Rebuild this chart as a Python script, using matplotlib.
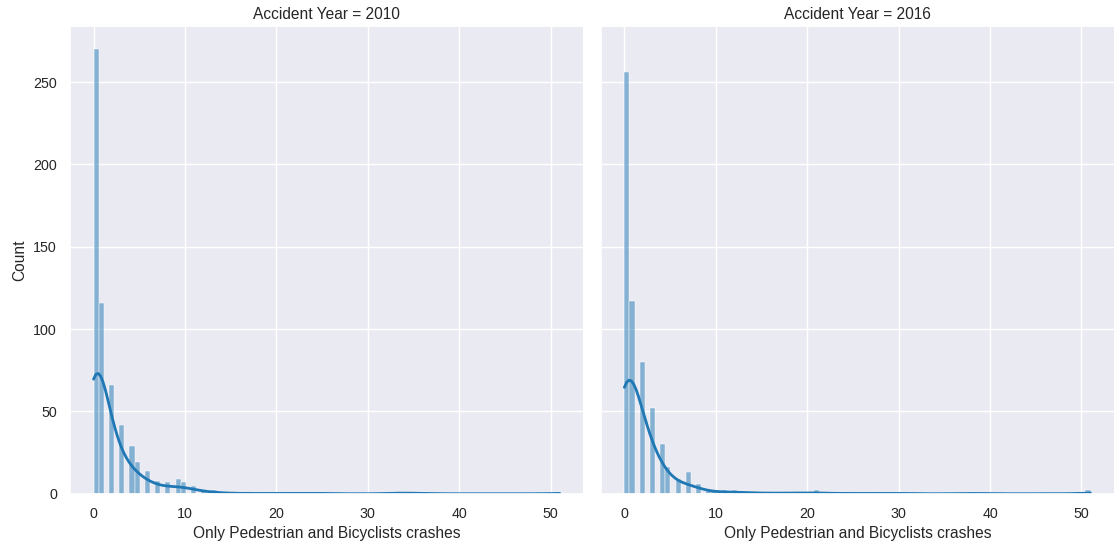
import matplotlib
matplotlib.use("Agg")
import matplotlib.pyplot as plt
import numpy as np
import pandas as pd
import seaborn as sns

# crash counts per value of "Only Pedestrian and Bicyclists crashes"
values_2010 = [0, 1, 2, 3, 4, 5, 6, 7, 8, 9, 10, 11, 12, 13, 14, 16, 19, 22, 25, 33, 34, 36, 51]
counts_2010 = [270, 116, 66, 42, 29, 19, 14, 8, 7, 9, 7, 5, 2, 2, 1, 1, 1, 1, 1, 1, 1, 1, 1]

values_2016 = [0, 1, 2, 3, 4, 5, 6, 7, 8, 9, 10, 11, 12, 13, 14, 15, 17, 18, 20, 21, 24, 27, 30, 38, 51]
counts_2016 = [256, 117, 80, 52, 30, 16, 9, 13, 6, 2, 2, 2, 2, 1, 1, 1, 1, 1, 1, 2, 1, 1, 1, 1, 2]

xcol = "Only Pedestrian and Bicyclists crashes"

frames = []
for year, vals, cnts in [(2010, values_2010, counts_2010), (2016, values_2016, counts_2016)]:
    frames.append(pd.DataFrame({
        xcol: np.repeat(vals, cnts),
        "Accident Year": year,
    }))
df = pd.concat(frames, ignore_index=True)

sns.set_theme(style="darkgrid", palette="tab10", font_scale=0.93)
plt.rcParams["font.family"] = ["Liberation Sans", "DejaVu Sans"]

bins = np.linspace(0, 51, 92)
g = sns.displot(data=df, x=xcol, col="Accident Year", kde=True, bins=bins,
                color="#1f77b4", line_kws={"linewidth": 2},
                height=5, aspect=1)
g.figure.set_size_inches(11.15, 5.48)
g.figure.subplots_adjust(left=0.063, right=0.999, bottom=0.099, top=0.951, wspace=0.035)
g.set_axis_labels(xcol, "Count")

g.figure.savefig("out.png", dpi=100)
